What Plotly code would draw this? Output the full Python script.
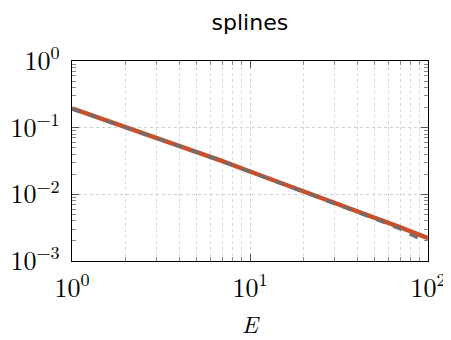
import plotly.graph_objects as go

# data
energy = [1, 2, 3, 5, 7, 10, 20, 30, 50, 70, 100]
spline_red = [0.195, 0.103, 0.071, 0.044, 0.0315, 0.022, 0.0112, 0.0075, 0.0045, 0.0032, 0.0022]
energy_gray = [1, 2, 3, 5, 7, 10, 20, 30, 50, 70, 95]
spline_gray = [0.19, 0.101, 0.0695, 0.0432, 0.031, 0.0217, 0.0110, 0.0073, 0.0043, 0.0030, 0.00198]

x_tickvals = [1, 10, 100]
x_ticktext = ["10<sup>0</sup>", "10<sup>1</sup>", "10<sup>2</sup>"]
x_minor = [2, 3, 4, 5, 6, 7, 8, 9, 20, 30, 40, 50, 60, 70, 80, 90]
y_tickvals = [1, 0.1, 0.01, 0.001]
y_ticktext = ["10<sup>0</sup>", "10<sup>−1</sup>", "10<sup>−2</sup>", "10<sup>−3</sup>"]
y_minor = [0.002, 0.003, 0.004, 0.005, 0.006, 0.007, 0.008, 0.009,
           0.02, 0.03, 0.04, 0.05, 0.06, 0.07, 0.08, 0.09,
           0.2, 0.3, 0.4, 0.5, 0.6, 0.7, 0.8, 0.9]

fig = go.Figure()
fig.add_trace(go.Scatter(x=energy, y=spline_red, mode="lines",
                         line=dict(color="#c8502a", width=4.5), showlegend=False))
fig.add_trace(go.Scatter(x=energy_gray, y=spline_gray, mode="lines",
                         line=dict(color="#6e6e6e", width=3, dash="dash"), showlegend=False))

serif = "Latin Modern Roman, DejaVu Serif, serif"
fig.update_layout(
    width=443, height=332,
    margin=dict(l=64, r=23, t=53, b=79),
    paper_bgcolor="white", plot_bgcolor="white",
    title=dict(text="splines", x=0.546, xanchor="center", xref="container",
               y=0.958, yanchor="middle", yref="container",
               font=dict(family="DejaVu Sans, sans-serif", size=22, color="black")),
    xaxis=dict(type="log", range=[0, 2], tickvals=x_tickvals, ticktext=x_ticktext,
               automargin=False, ticklabelstandoff=4,
               ticks="inside", ticklen=7, tickcolor="#555", mirror="allticks",
               showline=True, linecolor="black", linewidth=1.2,
               showgrid=True, gridcolor="#d0d0d0", griddash="dot", gridwidth=1,
               tickfont=dict(family=serif, size=26, color="black"),
               minor=dict(tickvals=x_minor, ticks="inside", ticklen=4, tickcolor="#888",
                          showgrid=True, gridcolor="#d8d8d8", griddash="dot"),
               title=dict(text="<i>E</i>", font=dict(family=serif, size=24, color="black"),
                          standoff=24),
               zeroline=False),
    yaxis=dict(type="log", range=[-3, 0], tickvals=y_tickvals, ticktext=y_ticktext,
               automargin=False, ticklabelstandoff=6,
               ticks="inside", ticklen=7, tickcolor="#555", mirror="allticks",
               showline=True, linecolor="black", linewidth=1.2,
               showgrid=True, gridcolor="#d0d0d0", griddash="dot", gridwidth=1,
               tickfont=dict(family=serif, size=26, color="black"),
               minor=dict(tickvals=y_minor, ticks="inside", ticklen=4, tickcolor="#888",
                          showgrid=False),
               zeroline=False),
)

fig.write_html("out.html")
